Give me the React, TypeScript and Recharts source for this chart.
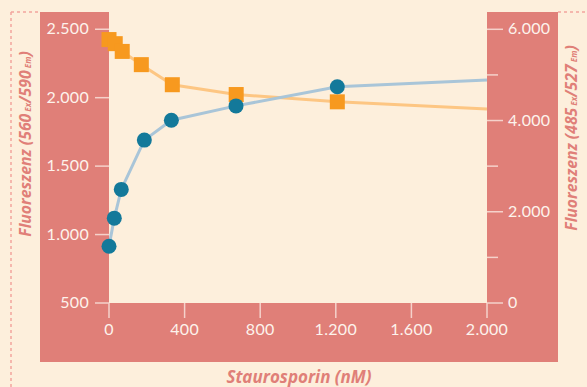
import { Line, LineChart, XAxis, YAxis } from "recharts";

// Staurosporin concentration (nM) and fluorescence readings
const blueConc = [0, 28, 65, 187, 330, 672, 1208, 2000];
const blueSignal = [915, 1120, 1330, 1690, 1835, 1940, 2080, 2130];

const orangeConc = [0, 33, 70, 171, 335, 673, 1208, 2000];
const orangeSignal = [5775, 5685, 5515, 5225, 4785, 4570, 4410, 4255];

const xTicks = [0, 400, 800, 1200, 1600, 2000];
const leftTicks = [500, 1000, 1500, 2000, 2500];
const rightTicks = [0, 1000, 2000, 3000, 4000, 5000, 6000];

const blueData = blueConc.map((c, i) => ({
  conc: c,
  signal: blueSignal[i],
  marker: i < blueConc.length - 1,
}));
const orangeData = orangeConc.map((c, i) => ({
  conc: c,
  signal: orangeSignal[i],
  marker: i < orangeConc.length - 1,
}));

const CREAM = "#fdefdc";
const SALMON = "#e07f78";
const TICK_LINE = "#f5d2cb";
const TICK_TEXT = "#fdf3ec";
const FONT = "'Open Sans', sans-serif";

function fmt(v: number) {
  return v.toLocaleString("de-DE");
}

const tickTextStyle = {
  fontFamily: "Lato, sans-serif",
  fontSize: 16,
  fill: TICK_TEXT,
  letterSpacing: 0.3,
} as const;

function XTick({ x, y, payload }: any) {
  return (
    <g>
      <line x1={x} x2={x} y1={y} y2={y + 15} stroke={TICK_LINE} strokeWidth={1.5} />
      <text x={x} y={y + 32} textAnchor="middle" style={tickTextStyle}>
        {fmt(payload.value)}
      </text>
    </g>
  );
}

function LeftTick({ x, y, payload }: any) {
  return (
    <g>
      <line x1={x - 14} x2={x} y1={y} y2={y} stroke={TICK_LINE} strokeWidth={1.5} />
      <text x={x - 20} y={y + 5} textAnchor="end" style={tickTextStyle}>
        {fmt(payload.value)}
      </text>
    </g>
  );
}

function RightTick({ x, y, payload }: any) {
  const major = payload.value % 2000 === 0;
  return (
    <g>
      <line
        x1={x}
        x2={x + (major ? 16 : 11)}
        y1={y}
        y2={y}
        stroke={TICK_LINE}
        strokeWidth={1.5}
      />
      {major && (
        <text x={x + 21} y={y + 5} textAnchor="start" style={tickTextStyle}>
          {fmt(payload.value)}
        </text>
      )}
    </g>
  );
}

function CircleDot({ cx, cy, payload }: any) {
  if (!payload.marker) return <g />;
  return <circle cx={cx} cy={cy} r={7.5} fill="#13799a" />;
}

function SquareDot({ cx, cy, payload }: any) {
  if (!payload.marker) return <g />;
  return <rect x={cx - 7.5} y={cy - 7.5} width={15} height={15} fill="#f7991f" />;
}

const titleStyle = {
  fontFamily: FONT,
  fontWeight: 700,
  fontStyle: "italic",
  fill: SALMON,
  fontSize: 17,
} as const;

const sideTitleStyle = { ...titleStyle, fontSize: 15.8 };

export default function App() {
  return (
    <div
      style={{
        position: "fixed",
        left: 0,
        top: 0,
        width: 587,
        height: 387,
        background: CREAM,
        overflow: "hidden",
      }}
    >
      <svg
        width={587}
        height={387}
        style={{ position: "absolute", left: 0, top: 0 }}
      >
        <rect x={40} y={12} width={69} height={350} fill={SALMON} />
        <rect x={487} y={12} width={71} height={350} fill={SALMON} />
        <rect x={40} y={303} width={518} height={59} fill={SALMON} />
        <g stroke="#f2a59d" strokeWidth={1.5} strokeDasharray="3 3" fill="none">
          <line x1={11} y1={12} x2={11} y2={387} />
          <line x1={11} y1={12} x2={40} y2={12} />
          <line x1={558} y1={12} x2={587} y2={12} />
        </g>
        <text x={299} y={383} textAnchor="middle" style={titleStyle}>
          Staurosporin (nM)
        </text>
        <text
          transform="translate(31,144) rotate(-90)"
          textAnchor="middle"
          style={sideTitleStyle}
        >
          Fluoreszenz (560
          <tspan fontSize={8}> Ex</tspan>/590
          <tspan fontSize={8}> Em</tspan>)
        </text>
        <text
          transform="translate(577,138) rotate(-90)"
          textAnchor="middle"
          style={sideTitleStyle}
        >
          Fluoreszenz (485
          <tspan fontSize={8}> Ex</tspan>/527
          <tspan fontSize={8}> Em</tspan>)
        </text>
      </svg>
      <div style={{ position: "absolute", left: 0, top: 0 }}>
        <LineChart
          width={587}
          height={387}
          margin={{ top: 12, right: 29, bottom: 25, left: 40 }}
        >
          <XAxis
            dataKey="conc"
            type="number"
            domain={[0, 2000]}
            ticks={xTicks}
            axisLine={false}
            tickLine={false}
            tickSize={0}
            tickMargin={0}
            height={59}
            tick={<XTick />}
            allowDuplicatedCategory={false}
          />
          <YAxis
            yAxisId="left"
            type="number"
            domain={[500, 2626]}
            ticks={leftTicks}
            axisLine={false}
            tickLine={false}
            tickSize={0}
            tickMargin={0}
            width={69}
            tick={<LeftTick />}
          />
          <YAxis
            yAxisId="right"
            orientation="right"
            type="number"
            domain={[0, 6379]}
            ticks={rightTicks}
            axisLine={false}
            tickLine={false}
            tickSize={0}
            tickMargin={0}
            width={71}
            tick={<RightTick />}
          />
          <Line
            yAxisId="right"
            data={orangeData}
            dataKey="signal"
            type="linear"
            stroke="#fdc683"
            strokeWidth={3}
            dot={<SquareDot />}
            activeDot={false}
            isAnimationActive={false}
          />
          <Line
            yAxisId="left"
            data={blueData}
            dataKey="signal"
            type="linear"
            stroke="#a9c5d8"
            strokeWidth={3}
            dot={<CircleDot />}
            activeDot={false}
            isAnimationActive={false}
          />
        </LineChart>
      </div>
    </div>
  );
}
